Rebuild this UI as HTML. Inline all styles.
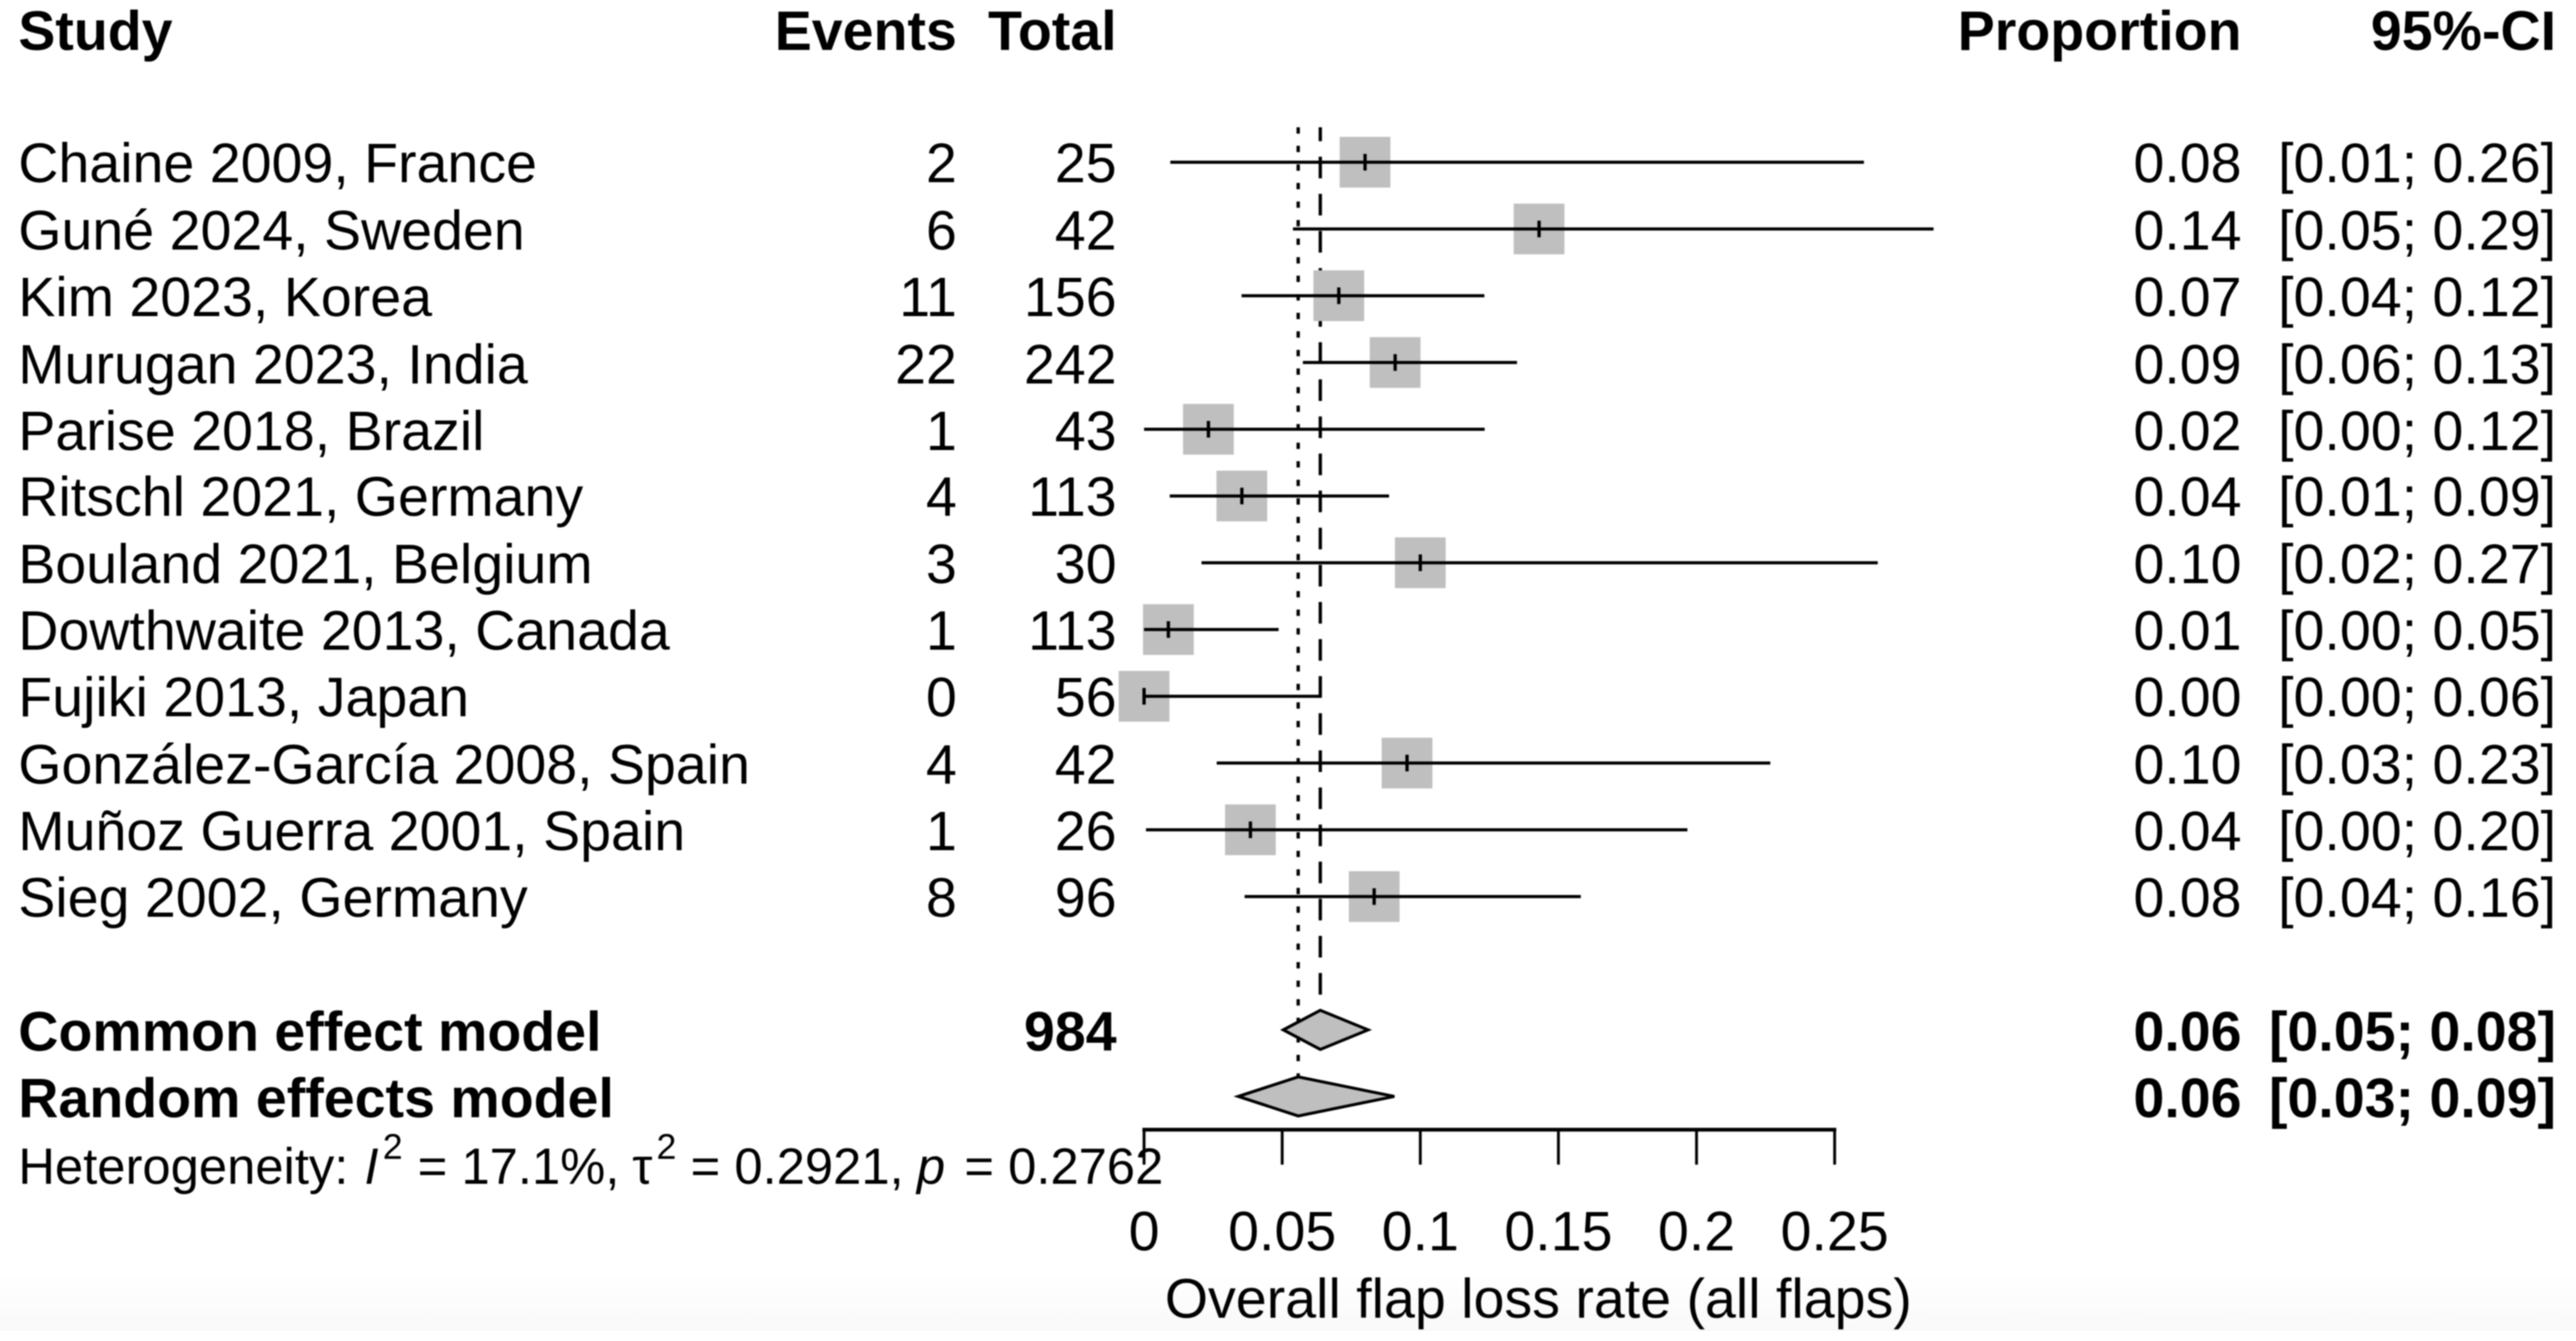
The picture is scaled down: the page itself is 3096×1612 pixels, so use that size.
<!DOCTYPE html>
<html lang="en">
<head>
<meta charset="utf-8">
<title>Forest plot of overall flap loss rate</title>
<style>
html,body{margin:0;padding:0;background:#fff;width:3096px;height:1612px;overflow:hidden}
#chart{position:absolute;left:0;top:0;width:3096px;height:1612px;filter:blur(.7px)}
#shade{position:absolute;left:0;top:1530px;width:3096px;height:70px;background:linear-gradient(#fff,#f9f9f9)}
text{font-family:"Liberation Sans",Arial,sans-serif;font-size:66.75px;fill:#000}
.b{font-weight:700}
.r{text-anchor:end}
.h{font-size:61px}
.s{font-size:43px}
</style>
</head>
<body>
<div id="shade"></div>
<svg id="chart" width="3096" height="1612" viewBox="0 0 3096 1612" xmlns="http://www.w3.org/2000/svg">
  <g id="marks"></g>
  <g>
    <text class="b" x="22" y="60">Study</text>
    <text class="b r" x="1150" y="60">Events</text>
    <text class="b r" x="1342" y="60">Total</text>
    <text class="b r" x="2694" y="60">Proportion</text>
    <text class="b r" x="3072" y="60">95%-CI</text>
  </g>
  <g>
    <text x="22" y="219">Chaine 2009, France</text>
    <text x="22" y="300">Gun&#233; 2024, Sweden</text>
    <text x="22" y="380">Kim 2023, Korea</text>
    <text x="22" y="461">Murugan 2023, India</text>
    <text x="22" y="541">Parise 2018, Brazil</text>
    <text x="22" y="620">Ritschl 2021, Germany</text>
    <text x="22" y="701">Bouland 2021, Belgium</text>
    <text x="22" y="781">Dowthwaite 2013, Canada</text>
    <text x="22" y="861">Fujiki 2013, Japan</text>
    <text x="22" y="942">Gonz&#225;lez-Garc&#237;a 2008, Spain</text>
    <text x="22" y="1022">Mu&#241;oz Guerra 2001, Spain</text>
    <text x="22" y="1102">Sieg 2002, Germany</text>
  </g>
  <g>
    <text class="r" x="1150" y="219">2</text>
    <text class="r" x="1150" y="300">6</text>
    <text class="r" x="1150" y="380">11</text>
    <text class="r" x="1150" y="461">22</text>
    <text class="r" x="1150" y="541">1</text>
    <text class="r" x="1150" y="620">4</text>
    <text class="r" x="1150" y="701">3</text>
    <text class="r" x="1150" y="781">1</text>
    <text class="r" x="1150" y="861">0</text>
    <text class="r" x="1150" y="942">4</text>
    <text class="r" x="1150" y="1022">1</text>
    <text class="r" x="1150" y="1102">8</text>
  </g>
  <g>
    <text class="r" x="1342" y="219">25</text>
    <text class="r" x="1342" y="300">42</text>
    <text class="r" x="1342" y="380">156</text>
    <text class="r" x="1342" y="461">242</text>
    <text class="r" x="1342" y="541">43</text>
    <text class="r" x="1342" y="620">113</text>
    <text class="r" x="1342" y="701">30</text>
    <text class="r" x="1342" y="781">113</text>
    <text class="r" x="1342" y="861">56</text>
    <text class="r" x="1342" y="942">42</text>
    <text class="r" x="1342" y="1022">26</text>
    <text class="r" x="1342" y="1102">96</text>
  </g>
  <g>
    <text class="r" x="2694" y="219">0.08</text>
    <text class="r" x="2694" y="300">0.14</text>
    <text class="r" x="2694" y="380">0.07</text>
    <text class="r" x="2694" y="461">0.09</text>
    <text class="r" x="2694" y="541">0.02</text>
    <text class="r" x="2694" y="620">0.04</text>
    <text class="r" x="2694" y="701">0.10</text>
    <text class="r" x="2694" y="781">0.01</text>
    <text class="r" x="2694" y="861">0.00</text>
    <text class="r" x="2694" y="942">0.10</text>
    <text class="r" x="2694" y="1022">0.04</text>
    <text class="r" x="2694" y="1102">0.08</text>
  </g>
  <g>
    <text class="r" x="3072" y="219">[0.01; 0.26]</text>
    <text class="r" x="3072" y="300">[0.05; 0.29]</text>
    <text class="r" x="3072" y="380">[0.04; 0.12]</text>
    <text class="r" x="3072" y="461">[0.06; 0.13]</text>
    <text class="r" x="3072" y="541">[0.00; 0.12]</text>
    <text class="r" x="3072" y="620">[0.01; 0.09]</text>
    <text class="r" x="3072" y="701">[0.02; 0.27]</text>
    <text class="r" x="3072" y="781">[0.00; 0.05]</text>
    <text class="r" x="3072" y="861">[0.00; 0.06]</text>
    <text class="r" x="3072" y="942">[0.03; 0.23]</text>
    <text class="r" x="3072" y="1022">[0.00; 0.20]</text>
    <text class="r" x="3072" y="1102">[0.04; 0.16]</text>
  </g>
  <g>
    <text class="b" x="22" y="1263">Common effect model</text>
    <text class="b r" x="1342" y="1263">984</text>
    <text class="b r" x="2694" y="1263">0.06</text>
    <text class="b r" x="3072" y="1263">[0.05; 0.08]</text>
    <text class="b" x="22" y="1343">Random effects model</text>
    <text class="b r" x="2694" y="1343">0.06</text>
    <text class="b r" x="3072" y="1343">[0.03; 0.09]</text>
  </g>
  <g>
    <text class="h" x="22" y="1423">Heterogeneity:</text>
    <text class="h" x="438" y="1423" font-style="italic">I</text>
    <text class="s" x="460" y="1393">2</text>
    <text class="h" x="502" y="1423">= 17.1%,</text>
    <text class="h" x="760" y="1423">&#964;</text>
    <text class="s" x="789" y="1393">2</text>
    <text class="h" x="830" y="1423">= 0.2921,</text>
    <text class="h" x="1102" y="1423" font-style="italic">p</text>
    <text class="h" x="1159" y="1423">= 0.2762</text>
  </g>
  <text x="1400" y="1584">Overall flap loss rate (all flaps)</text>
</svg>
<script>
const means = [0.08, 0.143, 0.0705, 0.0909, 0.0233, 0.0354, 0.1, 0.0088, 0, 0.0952, 0.0385, 0.0833];
const lows = [0.0095, 0.0539, 0.0353, 0.0575, 0, 0.0093, 0.0208, 0, 0, 0.0263, 0.0007, 0.0364];
const highs = [0.2606, 0.2858, 0.1232, 0.135, 0.1233, 0.0887, 0.2656, 0.0487, 0.064, 0.2267, 0.1967, 0.1581];
const commonEffect = [0.0504, 0.0638, 0.0811];
const randomEffects = [0.0341, 0.0558, 0.0906];
const tickValues = [0, 0.05, 0.1, 0.15, 0.2, 0.25];
const tickLabels = ['0', '0.05', '0.1', '0.15', '0.2', '0.25'];

const NS = 'http://www.w3.org/2000/svg';
const marks = document.getElementById('marks');
const xScale = v => 1375 + v * 3320;
const yRow = i => 195 + i * 80.25;
const squareSize = 61;

function make(tag, attrs) {
  const el = document.createElementNS(NS, tag);
  for (const k in attrs) el.setAttribute(k, attrs[k]);
  marks.appendChild(el);
  return el;
}

const refRandom = make('line', {x1: xScale(randomEffects[1]), x2: xScale(randomEffects[1]), y1: 153, y2: 1295, stroke: '#000', 'stroke-width': 4, 'stroke-dasharray': '7.6 14.7'});


const refCommon = make('line', {x1: xScale(commonEffect[1]), x2: xScale(commonEffect[1]), y1: 153, y2: 1215, stroke: '#000', 'stroke-width': 4, 'stroke-dasharray': '26 18.6', 'stroke-dashoffset': 9.2});



means.forEach((m, i) => {
  const y = yRow(i);
  const square = make('rect', {x: xScale(m) - squareSize / 2, y: y - squareSize / 2, width: squareSize, height: squareSize, fill: '#bfbfbf'});
  
  
});
means.forEach((m, i) => {
  const y = yRow(i);
  const ci = make('line', {x1: xScale(lows[i]), x2: xScale(highs[i]), y1: y, y2: y, stroke: '#000', 'stroke-width': 3.8});
  
  
  const point = make('line', {x1: xScale(m), x2: xScale(m), y1: y - 10, y2: y + 10, stroke: '#000', 'stroke-width': 4});
  
  
});

function diamond(vals, cy, halfH) {
  const pts = [
    xScale(vals[0]) + ',' + cy,
    xScale(vals[1]) + ',' + (cy - halfH),
    xScale(vals[2]) + ',' + cy,
    xScale(vals[1]) + ',' + (cy + halfH)
  ].join(' ');
  return make('polygon', {points: pts, fill: '#bfbfbf', stroke: '#000', 'stroke-width': 3.6, 'stroke-linejoin': 'miter'});
}
const commonDiamond = diamond(commonEffect, 1238, 23.5);


const randomDiamond = diamond(randomEffects, 1318, 23.5);



const axisLine = make('line', {x1: xScale(tickValues[0]) - 2, x2: xScale(tickValues[tickValues.length - 1]) + 2, y1: 1358, y2: 1358, stroke: '#000', 'stroke-width': 4.5});



tickValues.forEach((v, i) => {
  const tick = make('line', {x1: xScale(v), x2: xScale(v), y1: 1358, y2: 1400, stroke: '#000', 'stroke-width': 3.4});
  
  
  const label = make('text', {x: xScale(v), y: 1503, 'text-anchor': 'middle'});
  label.textContent = tickLabels[i];
  
  
});
</script>
</body>
</html>
